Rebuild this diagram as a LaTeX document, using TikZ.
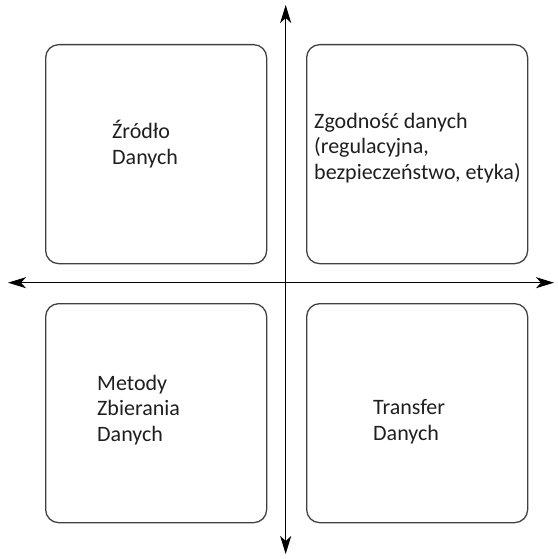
\documentclass[tikz,border=0pt]{standalone}
\usepackage{fontspec}
\setmainfont{Carlito}
\usetikzlibrary{arrows.meta}

\begin{document}
\begin{tikzpicture}[x=1pt,y=-1pt,
  quadrant/.style={draw=black!75,line width=1.3pt,rounded corners=13pt,
    minimum width=221pt,minimum height=219pt,inner sep=0pt,anchor=north west},
  % base anchor of a multi-line label sits on its last line
  label text/.style={anchor=base west,align=left,inner sep=0pt,text=black!88,
    font=\fontsize{22}{25.5}\selectfont},
  axis/.style={line width=1.5pt,{Stealth[length=18pt,width=11pt,inset=5pt]}-{Stealth[length=18pt,width=11pt,inset=5pt]}}]
  \useasboundingbox (0,0) rectangle (557,559);

  % quadrant boxes
  \node[quadrant] (q1) at (45,44) {};
  \node[quadrant] (q2) at (306,44) {};
  \node[quadrant] (q3) at (45,303) {};
  \node[quadrant] (q4) at (306,303) {};

  % axes
  \coordinate (top) at (285.7,5);
  \coordinate (bottom) at (285.7,554);
  \coordinate (left) at (8,282.7);
  \coordinate (right) at (554,282.7);
  \draw[axis] (left) -- (right);
  \draw[axis] (bottom) -- (top);

  % labels
  \node[label text] (t1) at (112,164) {Źródło\\Danych};
  \node[label text] (t2) at (314,179) {Zgodność danych\\(regulacyjna,\\bezpieczeństwo, etyka)};
  \node[label text] (t3) at (97,441) {Metody\\Zbierania\\Danych};
  \node[label text] (t4) at (373,440) {Transfer\\Danych};
\end{tikzpicture}
\end{document}
